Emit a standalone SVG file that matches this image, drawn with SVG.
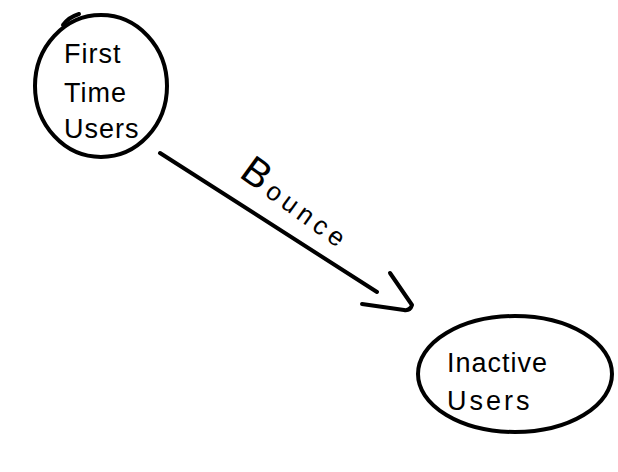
<svg xmlns="http://www.w3.org/2000/svg" width="618" height="472" viewBox="0 0 618 472">
<style>
.shape{fill:none;stroke:#000;stroke-width:4;stroke-linecap:round;stroke-linejoin:round}
.lbl{font-family:"Liberation Sans",Arial,sans-serif;font-size:27px;fill:#000}
</style>
<rect width="618" height="472" fill="#fff"/>
<g id="first-time-users">
<ellipse class="shape" cx="101" cy="86" rx="66" ry="71"/>
<path class="shape" d="M63 25 Q69 17 79 14"/>
<text class="lbl" x="64" y="63" letter-spacing="1">First</text>
<text class="lbl" x="64" y="102" letter-spacing="1">Time</text>
<text class="lbl" x="64" y="138" letter-spacing="1">Users</text>
</g>
<g id="inactive-users">
<ellipse class="shape" cx="515" cy="374" rx="97" ry="58"/>
<text class="lbl" x="447" y="372" letter-spacing="1">Inactive</text>
<text class="lbl" x="447" y="410" letter-spacing="3">Users</text>
</g>
<g id="connectors">
<path class="shape" d="M160 153 L377 292"/>
<path class="shape" d="M390 273 L412 305 Q410 311 404 310 L362 304"/>
<text class="lbl" x="0" y="0" transform="translate(238 176) rotate(36)" letter-spacing="5"><tspan font-size="40">B</tspan><tspan font-size="26">ounce</tspan></text>
</g>
</svg>
